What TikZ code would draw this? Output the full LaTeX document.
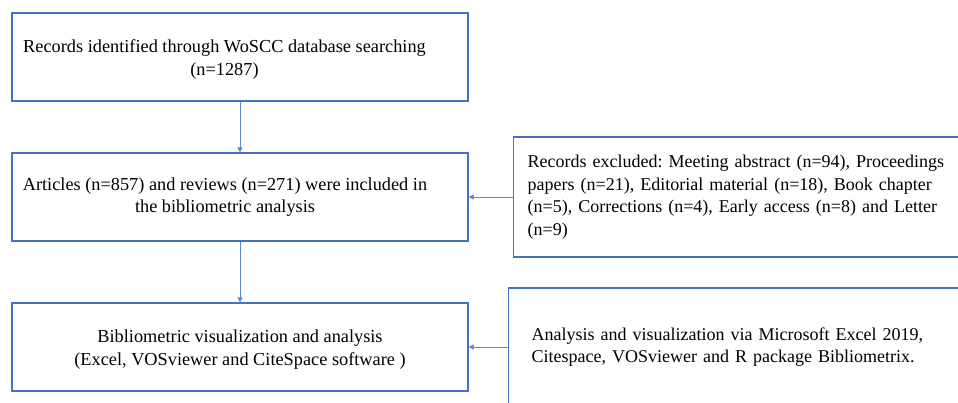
\documentclass[tikz,border=0pt]{standalone}
\usepackage{fontspec}
\setmainfont{Liberation Serif}
\usetikzlibrary{arrows.meta}
\definecolor{boxblue}{HTML}{4472C4}
\definecolor{arrowblue}{HTML}{5B87D0}
\frenchspacing
\newcommand{\stacklines}[1]{\begin{tabular}{@{}c@{}}#1\end{tabular}}
\begin{document}
\begin{tikzpicture}[x=1pt,y=-1pt,
  every node/.style={font=\fontsize{18.3}{22.5}\selectfont},
  stagebox/.style={draw=boxblue, line width=1.3pt, minimum width=456pt,
    minimum height=88pt, inner sep=0pt, align=center},
  sidebox/.style={draw=boxblue, line width=1.3pt, align=left, anchor=west,
    text width=440pt, font=\fontsize{18}{22.5}\selectfont},
  flow/.style={draw=arrowblue, line width=0.8pt,
    -{Triangle[width=5pt,length=5pt]}}]
\useasboundingbox (0,0) rectangle (958,402);
\clip (0,0) rectangle (958,402);
\fill[white] (0,0) rectangle (958,402);

% main stages
\node[stagebox] (search) at (240,57)
  {\stacklines{\rule{0pt}{21pt}Records identified through WoSCC database searching\\(n=1287)}\hspace{31pt}};
\node[stagebox] (included) at (240,197)
  {\stacklines{Articles (n=857) and reviews (n=271) were included in\\the bibliometric analysis}\hspace{30pt}};
\node[stagebox] (analysis) at (240,347)
  {\stacklines{\rule{0pt}{21pt}Bibliometric visualization and analysis\\(Excel, VOSviewer and CiteSpace software )}};

% side notes (run off the right edge)
\node[sidebox, inner xsep=14pt, minimum height=120pt] (excluded) at (513,197)
  {Records excluded: Meeting abstract (n=94), Proceedings\\
   papers (n=21), Editorial material (n=18), Book chapter\\
   (n=5), Corrections (n=4), Early access (n=8) and Letter\\
   (n=9)};
\node[sidebox, inner xsep=23pt, minimum height=118pt] (tools) at (508,347)
  {Analysis and visualization via Microsoft Excel 2019,\\
   Citespace, VOSviewer and R package Bibliometrix.};

% connectors
\draw[flow] (search) -- (included);
\draw[flow] (included) -- (analysis);
\draw[flow] (excluded.west) -- (included.east);
\draw[flow] (tools.west) -- (analysis.east);
\end{tikzpicture}
\end{document}
